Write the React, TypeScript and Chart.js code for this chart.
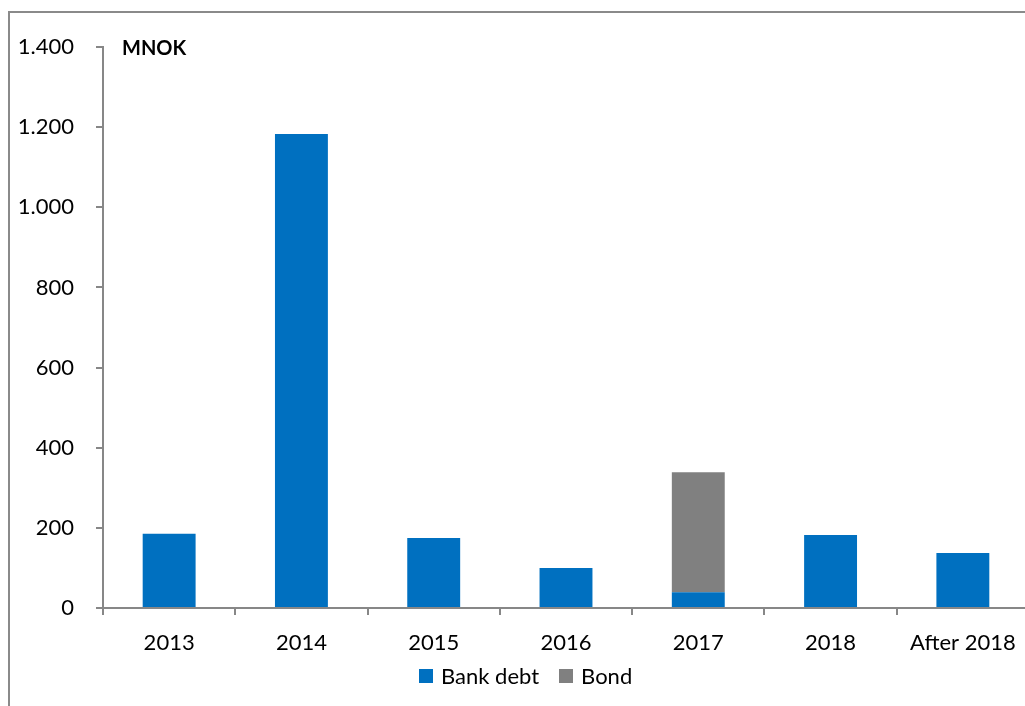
import React, { useEffect, useRef } from "react";
import { Chart, registerables } from "chart.js";

Chart.register(...registerables);

const categories = ["2013", "2014", "2015", "2016", "2017", "2018", "After 2018"];
const bankDebt = [185, 1183, 175, 100, 39, 182, 137];
const bond = [0, 0, 0, 0, 300, 0, 0];
const yTicks = [0, 200, 400, 600, 800, 1000, 1200, 1400];

const FONT = "Lato, 'Open Sans', sans-serif";
const AXIS = "#878787";
const BLUE = "#0070C0";
const GREY = "#808080";

const fmt = (v: number) => String(v).replace(/\B(?=(\d{3})+(?!\d))/g, ".");

export default function App() {
  const ref = useRef<HTMLCanvasElement | null>(null);

  useEffect(() => {
    if (!ref.current) return;
    const chart = new Chart(ref.current, {
      type: "bar",
      data: {
        labels: categories,
        datasets: [
          { label: "Bank debt", data: bankDebt, backgroundColor: BLUE, barPercentage: 0.4, categoryPercentage: 1 },
          { label: "Bond", data: bond, backgroundColor: GREY, barPercentage: 0.4, categoryPercentage: 1 },
        ],
      },
      options: {
        responsive: false,
        animation: false,
        layout: { padding: { left: 0, top: 47, right: 11, bottom: 0 } },
        plugins: { legend: { display: false }, tooltip: { enabled: false } },
        scales: {
          x: {
            stacked: true,
            afterFit: (s: any) => { s.height = 98; },
            border: { display: true, color: AXIS, width: 2 },
            grid: { display: true, offset: true, drawOnChartArea: false, drawTicks: true, tickLength: 7, color: AXIS, lineWidth: 2 },
            ticks: { color: "#000", font: { family: FONT, size: 22 }, padding: 15, maxRotation: 0, autoSkip: false },
          },
          y: {
            stacked: true,
            min: 0,
            max: 1400,
            afterFit: (s: any) => { s.width = 103; },
            afterBuildTicks: (s: any) => { s.ticks = yTicks.map((v) => ({ value: v })); },
            border: { display: true, color: AXIS, width: 2 },
            grid: { display: true, drawOnChartArea: false, drawTicks: true, tickLength: 7, color: AXIS, lineWidth: 2 },
            ticks: { color: "#000", font: { family: FONT, size: 22 }, padding: 22, callback: (v: any) => fmt(Number(v)) },
          },
        },
      },
    });
    return () => chart.destroy();
  }, []);

  return (
    <div style={{ position: "fixed", left: 0, top: 0, width: 1025, height: 706, overflow: "hidden", background: "#fff" }}>
      <div style={{ position: "absolute", left: 8, top: 11, width: 1100, height: 800, borderLeft: "2px solid #8a8a8a", borderTop: "2px solid #8a8a8a" }} />
      <canvas ref={ref} width={1040} height={706} style={{ position: "absolute", left: 0, top: 0 }} />
      <div style={{ position: "absolute", left: 122, top: 35, fontFamily: FONT, fontWeight: 700, fontSize: 20, color: "#000" }}>MNOK</div>
      <div style={{ position: "absolute", left: 419, top: 662, display: "flex", alignItems: "center", fontFamily: FONT, fontSize: 22, color: "#000", whiteSpace: "nowrap" }}>
        <span style={{ display: "inline-block", width: 14, height: 14, background: BLUE, marginRight: 8 }} />
        <span style={{ marginRight: 20 }}>Bank debt</span>
        <span style={{ display: "inline-block", width: 14, height: 14, background: GREY, marginRight: 8 }} />
        <span>Bond</span>
      </div>
    </div>
  );
}
